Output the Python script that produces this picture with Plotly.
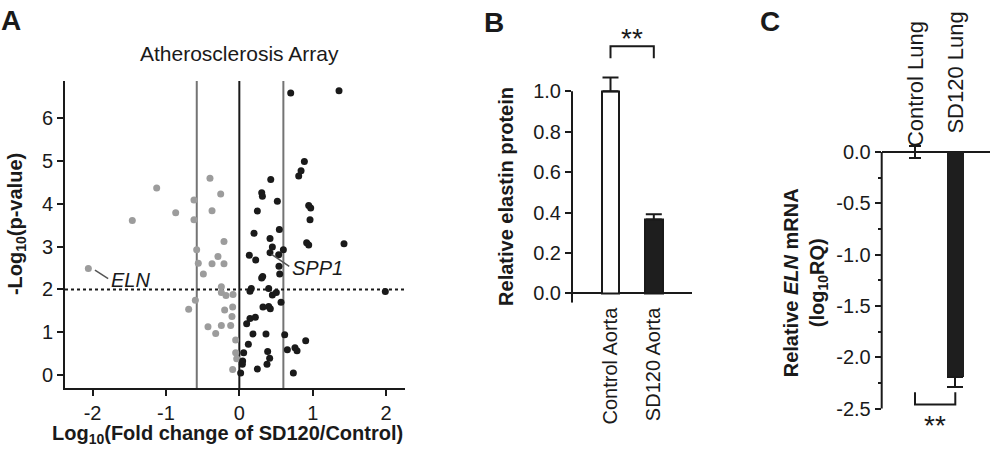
import plotly.graph_objects as go

# ---------------- Panel A data (volcano plot) ----------------
grey_x = [-1.126, -0.40, -0.618, -0.254, -0.867, -1.458, -0.618, -0.372, -0.209, -0.581,
          -0.291, -0.559, -0.372, -0.209, -0.490, -2.057, -0.245, -0.245, -0.182, -0.086,
          -0.599, -0.690, -0.200, -0.091, -0.100, -0.427, -0.322, -0.245, -0.118, -0.050,
          -0.050, -0.036, -0.091]
grey_y = [4.37, 4.60, 4.09, 4.23, 3.79, 3.61, 3.63, 3.84, 3.12, 2.93,
          2.77, 2.61, 2.60, 2.60, 2.36, 2.49, 2.06, 1.93, 1.86, 1.88,
          1.75, 1.54, 1.52, 1.59, 1.37, 1.13, 0.97, 1.16, 1.16, 0.82,
          0.52, 0.38, 0.13]
black_x = [0.700, 1.358, 0.886, 0.841, 0.809, 0.428, 0.305, 0.314, 0.518, 0.945,
           0.972, 0.245, 0.963, 0.545, 0.200, 0.418, 0.917, 0.945, 1.426, 0.450,
           0.136, 0.418, 0.536, 0.600, 0.223, 0.540, 0.550, 0.304, 0.318, 0.163,
           0.145, 0.400, 0.450, 0.504, 1.989, 0.568, 0.322, 0.400, 0.422, 0.145,
           0.218, 0.100, 0.186, 0.363, 0.618, 0.904, 0.123, 0.654, 0.758, 0.786,
           0.386, 0.059, 0.413, 0.045, 0.041, 0.377, 0.245, 0.018, 0.736]
black_y = [6.59, 6.64, 4.99, 4.77, 4.65, 4.57, 4.26, 4.18, 4.06, 3.96,
           3.90, 3.83, 3.63, 3.40, 3.31, 3.19, 3.09, 3.04, 3.07, 2.99,
           2.80, 2.86, 2.81, 2.93, 2.69, 2.54, 2.36, 2.27, 2.30, 2.02,
           1.96, 2.02, 1.87, 1.93, 1.95, 1.70, 1.59, 1.60, 1.55, 1.32,
           1.35, 1.20, 0.96, 0.96, 0.94, 0.80, 0.72, 0.59, 0.64, 0.57,
           0.55, 0.52, 0.39, 0.33, 0.25, 0.25, 0.14, 0.05, 0.05]
fc_low, fc_high = -0.58, 0.60
p_threshold = 2.0
eln_point = (-2.057, 2.49)
spp1_point = (0.42, 2.85)
a_xticks = [-2, -1, 0, 1, 2]
a_xticktext = ["-2", "-1", "0", "1", "2"]
a_yticks = [0, 1, 2, 3, 4, 5, 6]

# ---------------- Panel B data ----------------
b_cats = ["Control Aorta", "SD120 Aorta"]
b_vals = [1.0, 0.366]
b_err = [0.068, 0.026]
b_yticks = [0.0, 0.2, 0.4, 0.6, 0.8, 1.0]
b_yticktext = ["0.0", "0.2", "0.4", "0.6", "0.8", "1.0"]

# ---------------- Panel C data ----------------
c_cats = ["Control Lung", "SD120 Lung"]
c_vals = [0.0, -2.195]
c_err_plus = [0.055, 0.0]
c_err_minus = [0.055, 0.09]
c_yticks = [0.0, -0.5, -1.0, -1.5, -2.0, -2.5]
c_yticktext = ["0.0", "-0.5", "-1.0", "-1.5", "-2.0", "-2.5"]

W, H = 992, 457
FONT = "Liberation Sans, Arial, sans-serif"
INK = "#1a1a1a"


def px(x):
    return x / W


def py(y):
    return (H - y) / H


fig = go.Figure()

# Panel A scatter
fig.add_trace(go.Scatter(x=grey_x, y=grey_y, mode="markers", xaxis="x", yaxis="y",
                         marker=dict(color="#9c9c9c", size=7), cliponaxis=False, showlegend=False))
fig.add_trace(go.Scatter(x=black_x, y=black_y, mode="markers", xaxis="x", yaxis="y",
                         marker=dict(color=INK, size=7), cliponaxis=False, showlegend=False))

# Panel B bars
fig.add_trace(go.Bar(x=b_cats, y=b_vals, xaxis="x2", yaxis="y2", width=0.41,
                     marker=dict(color=["white", "#1e1e1e"], line=dict(color=INK, width=2)),
                     error_y=dict(type="data", array=b_err, arrayminus=[0, 0], color=INK,
                                  thickness=2, width=8),
                     cliponaxis=False, showlegend=False))

# Panel C bars (one trace per bar so caps differ)
cap_widths = [6, 8]
for i in range(2):
    fig.add_trace(go.Bar(x=[c_cats[i]], y=[c_vals[i]], xaxis="x3", yaxis="y3", width=0.43,
                         marker=dict(color="#1e1e1e", line=dict(width=0)),
                         error_y=dict(type="data", array=[c_err_plus[i]], arrayminus=[c_err_minus[i]],
                                      color=INK, thickness=2, width=cap_widths[i]),
                         cliponaxis=False, showlegend=False))

axis_common = dict(showgrid=False, zeroline=False, showline=True, linecolor=INK, linewidth=2,
                   ticks="outside", tickcolor=INK, tickwidth=2, ticklen=6,
                   tickfont=dict(family=FONT, size=20, color=INK))

b_range = [-0.046, 1.3]
c_range = [-2.7, 0.07]

fig.update_layout(
    width=W, height=H, margin=dict(l=0, r=0, t=0, b=0, pad=0),
    paper_bgcolor="white", plot_bgcolor="white", showlegend=False, bargap=0,
    font=dict(family=FONT, color=INK, size=20),
    xaxis=dict(domain=[px(65), px(405)], range=[-2.375, 2.257], anchor="y",
               tickvals=a_xticks, ticktext=a_xticktext, **axis_common),
    yaxis=dict(domain=[py(389.3), py(78)], range=[-0.307, 6.87], anchor="x",
               tickvals=a_yticks, **axis_common),
    xaxis2=dict(domain=[px(572), px(691.7)], range=[-0.889, 1.875], anchor="y2", type="category",
                showgrid=False, zeroline=False, showline=False, ticks="", tickangle=-90,
                tickfont=dict(family=FONT, size=20, color=INK)),
    yaxis2=dict(domain=[py(302.7), py(26.8)], range=b_range, anchor="x2",
                tickvals=b_yticks, ticktext=b_yticktext,
                **{**axis_common, "showline": False, "zeroline": True,
                   "zerolinecolor": INK, "zerolinewidth": 2}),
    xaxis3=dict(domain=[px(881.7), px(990)], range=[-0.826, 1.861], anchor="y3", type="category",
                side="top", showgrid=False, zeroline=False, showline=False,
                ticks="", showticklabels=False),
    yaxis3=dict(domain=[py(430.8), py(142.7)], range=c_range, anchor="x3",
                tickvals=c_yticks, ticktext=c_yticktext,
                minor=dict(dtick=0.25, ticks="outside", ticklen=3, tickwidth=2, tickcolor=INK),
                **{**axis_common, "showline": False, "zeroline": True,
                   "zerolinecolor": INK, "zerolinewidth": 2}),
)

shapes = []
# Panel A reference lines
for xv, col in [(fc_low, "#747474"), (0, INK), (fc_high, "#747474")]:
    shapes.append(dict(type="line", xref="x", yref="y domain", x0=xv, x1=xv, y0=0, y1=1,
                       line=dict(color=col, width=2), layer="below"))
shapes.append(dict(type="line", xref="x domain", yref="y", x0=0, x1=1, y0=p_threshold, y1=p_threshold,
                   line=dict(color=INK, width=2, dash="dot"), layer="below"))
# Axis spines for B and C (stop at the last tick)
shapes.append(dict(type="line", xref="x2 domain", yref="y2", x0=0, x1=0, y0=b_range[0], y1=b_yticks[-1],
                   line=dict(color=INK, width=2)))
shapes.append(dict(type="line", xref="x3 domain", yref="y3", x0=0, x1=0, y0=c_yticks[-1], y1=c_yticks[0],
                   line=dict(color=INK, width=2)))
# Leader lines for gene labels
shapes.append(dict(type="line", xref="x", yref="y", x0=eln_point[0] + 0.09, y0=eln_point[1] - 0.04,
                   x1=eln_point[0] + 0.27, y1=eln_point[1] - 0.24, line=dict(color="#555555", width=1.5)))
shapes.append(dict(type="line", xref="x", yref="y", x0=spp1_point[0] + 0.02, y0=spp1_point[1] - 0.03,
                   x1=spp1_point[0] + 0.26, y1=spp1_point[1] - 0.31, line=dict(color="#555555", width=1.5)))
# Significance bracket B
sig_b_y, sig_b_leg = 1.222, 1.162
shapes.append(dict(type="path", xref="x2", yref="y2",
                   path=f"M 0,{sig_b_leg} L 0,{sig_b_y} L 1,{sig_b_y} L 1,{sig_b_leg}",
                   line=dict(color=INK, width=2)))
# Significance bracket C
sig_c_y, sig_c_leg = -2.459, -2.34
shapes.append(dict(type="path", xref="x3", yref="y3",
                   path=f"M 0,{sig_c_leg} L 0,{sig_c_y} L 1,{sig_c_y} L 1,{sig_c_leg}",
                   line=dict(color=INK, width=2)))
fig.update_layout(shapes=shapes)

ann = []


def text(x, y, s, size=20, angle=0, xanchor="center", yanchor="middle", **kw):
    ann.append(dict(x=x, y=y, text=s, showarrow=False, textangle=angle, xanchor=xanchor,
                    yanchor=yanchor, font=dict(family=FONT, size=size, color=INK), **kw))


text(px(11), py(17), "<b>A</b>", size=28, xref="paper", yref="paper")
text(px(494), py(19), "<b>B</b>", size=28, xref="paper", yref="paper")
text(px(770), py(18), "<b>C</b>", size=28, xref="paper", yref="paper")
text(px(239), py(50), "Atherosclerosis Array", size=21, xref="paper", yref="paper")
text(px(227), py(436), "<b>Log<sub>10</sub>(Fold change of SD120/Control)</b>", size=20,
     xref="paper", yref="paper")
text(px(16), py(223), "<b>-Log<sub>10</sub>(p-value)</b>", size=20, angle=-90, xref="paper", yref="paper")
text(px(506.5), py(195), "<b>Relative elastin protein</b>", size=20, angle=-90, xref="paper", yref="paper")
text(px(805), py(283), "<b>Relative <i>ELN</i> mRNA<br>(log<sub>10</sub>RQ)</b>", size=20, angle=-90,
     xref="paper", yref="paper")
text(-1.771, 2.21, "<i>ELN</i>", size=20, xanchor="left", xref="x", yref="y")
text(0.69, 2.51, "<i>SPP1</i>", size=20, xanchor="left", xref="x", yref="y")
text(0.5, 1.175, "**", size=28, yanchor="bottom", xref="x2", yref="y2")
text(0.5, -2.49, "**", size=28, yanchor="top", xref="x3", yref="y3")
text(0, py(147), c_cats[0], size=22, angle=-90, yanchor="bottom", xref="x3", yref="paper")
text(1, py(133), c_cats[1], size=22, angle=-90, yanchor="bottom", xref="x3", yref="paper")
fig.update_layout(annotations=ann)

fig.write_html("out.html", post_script="document.body.style.margin='0';",
               config={"displayModeBar": False})
